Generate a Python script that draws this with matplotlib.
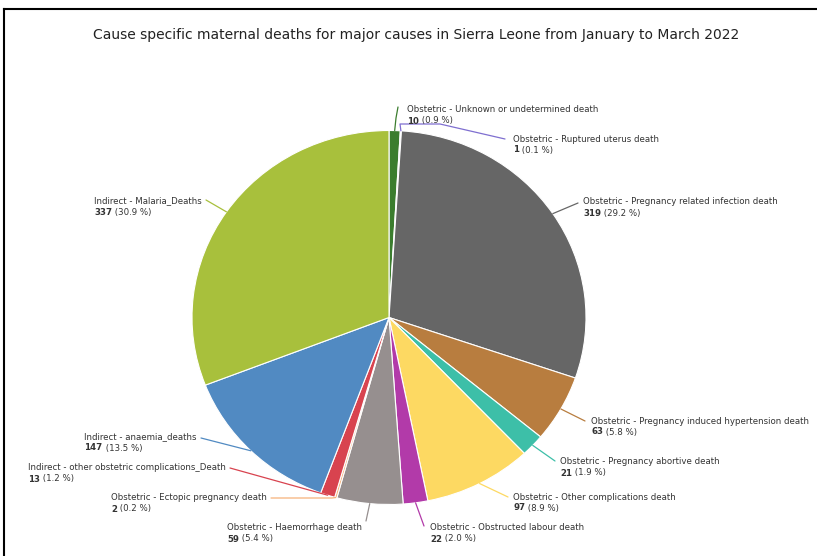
import matplotlib
matplotlib.use("Agg")
import matplotlib.pyplot as plt
from matplotlib.lines import Line2D
import numpy as np

causes = [
    "Obstetric - Unknown or undetermined death",
    "Obstetric - Ruptured uterus death",
    "Obstetric - Pregnancy related infection death",
    "Obstetric - Pregnancy induced hypertension death",
    "Obstetric - Pregnancy abortive death",
    "Obstetric - Other complications death",
    "Obstetric - Obstructed labour death",
    "Obstetric - Haemorrhage death",
    "Obstetric - Ectopic pregnancy death",
    "Indirect - other obstetric complications_Death",
    "Indirect - anaemia_deaths",
    "Indirect - Malaria_Deaths",
]
deaths = [10, 1, 319, 63, 21, 97, 22, 59, 2, 13, 147, 337]
colors = ["#3b7d2e", "#7f6fd0", "#666666", "#b87d3f", "#3dbfa8", "#fdd962",
          "#b23aa9", "#968f8f", "#f6b27a", "#d8434f", "#518ac2", "#a8c03c"]

title = "Cause specific maternal deaths for major causes in Sierra Leone from January to March 2022"

# layout (pixels): label anchor x, first-line y, side ('l' = text starts at x, 'r' = text ends at x)
label_pos = [(407, 110, 'l'), (513, 139, 'l'), (583, 202, 'l'), (591, 421, 'l'),
             (560, 462, 'l'), (513, 497, 'l'), (430, 528, 'l'), (362, 528, 'r'),
             (267, 498, 'r'), (226, 468, 'r'), (197, 437, 'r'), (202, 201, 'r')]
# connector end points and optional bend points (pixels)
line_end = [(398, 107), (505, 139), (578, 203), (585, 421), (555, 461), (508, 497),
            (424, 526), (366, 521), (271, 498), (230, 468), (201, 438), (206, 200)]
line_bend = {1: [(400, 124), (440, 124)], 8: [(332, 498)], 0: [(396, 118)]}

W, H = 817, 556
CX, CY, RX, RY = 389, 317.5, 197, 187


def to_data(px, py):
    return (px - CX) / RX, (CY - py) / RY


fig = plt.figure(figsize=(W / 100, H / 100), dpi=100)
ax = fig.add_axes([0, 0, 1, 1])
wedges, _ = ax.pie(deaths, colors=colors, startangle=90, counterclock=False, radius=1,
                   wedgeprops=dict(edgecolor="white", linewidth=0.8))
ax.set_aspect("auto")
ax.set_xlim(-CX / RX, (W - CX) / RX)
ax.set_ylim((CY - H) / RY, CY / RY)
ax.axis("off")

# connectors
for i, w in enumerate(wedges):
    mid = np.deg2rad((w.theta1 + w.theta2) / 2)
    pts = [(np.cos(mid), np.sin(mid))]
    for b in line_bend.get(i, []):
        pts.append(to_data(*b))
    pts.append(to_data(*line_end[i]))
    xs, ys = zip(*pts)
    ax.plot(xs, ys, color=colors[i], lw=0.9, solid_capstyle="round")

fig.text(416 / W, 1 - 35 / H, title, ha="center", va="center", fontsize=10, color="#222222")

total = sum(deaths)
fs = 6.2
tc = "#333333"
renderer = fig.canvas.get_renderer()
for i, (x, y, side) in enumerate(label_pos):
    t = fig.text(x / W, 1 - y / H, causes[i], ha="left" if side == "l" else "right",
                 va="center", fontsize=fs, color=tc)
    bb = t.get_window_extent(renderer)
    x0 = bb.x0
    v = fig.text(x0 / W, 1 - (y + 11) / H, str(deaths[i]), ha="left", va="center",
                 fontsize=fs, fontweight="bold", color=tc)
    vb = v.get_window_extent(renderer)
    fig.text(vb.x1 / W, 1 - (y + 11) / H, " (%.1f %%)" % (deaths[i] / total * 100),
             ha="left", va="center", fontsize=fs, color=tc)

# frame
fig.add_artist(Line2D([4 / W, 4 / W], [0, 1 - 9 / H], transform=fig.transFigure, color="black", lw=1.5))
fig.add_artist(Line2D([4 / W, 1], [1 - 9 / H, 1 - 9 / H], transform=fig.transFigure, color="black", lw=1.5))

fig.savefig("out.png", dpi=100)
